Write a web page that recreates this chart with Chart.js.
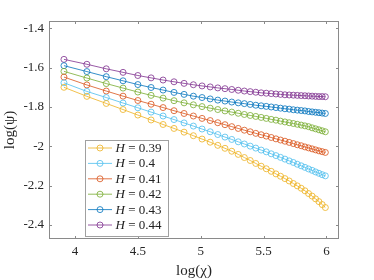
<!DOCTYPE html>
<html>
<head>
<meta charset="utf-8">
<script src="https://cdn.jsdelivr.net/npm/chart.js@4.4.1/dist/chart.umd.min.js"></script>
<style>
  html, body { margin: 0; padding: 0; background: #fff; }
  #wrap { width: 374px; height: 280px; }
</style>
</head>
<body>
<div id="wrap"><canvas id="c" width="374" height="280"></canvas></div>
<script>
// chi = 50, 60, ..., 400 ; x axis is log(chi)
const chi = [50, 60, 70, 80, 90, 100, 110, 120, 130, 140, 150, 160, 170, 180, 190, 200, 210, 220,
    230, 240, 250, 260, 270, 280, 290, 300, 310, 320, 330, 340, 350, 360, 370, 380, 390, 400];

const labels = ["0.39", "0.4", "0.41", "0.42", "0.43", "0.44"];
const colors = ["#EDB120", "#4DBEEE", "#D95319", "#77AC30", "#0072BD", "#7E2F8E"];

const h039 = [-1.700, -1.746, -1.782, -1.813, -1.841, -1.866, -1.889, -1.909, -1.928, -1.946,
    -1.963, -1.979, -1.995, -2.010, -2.025, -2.041, -2.057, -2.072, -2.087, -2.101,
    -2.114, -2.127, -2.140, -2.152, -2.164, -2.176, -2.189, -2.201, -2.213, -2.226,
    -2.240, -2.253, -2.267, -2.281, -2.296, -2.311];
const h040 = [-1.677, -1.721, -1.752, -1.780, -1.804, -1.826, -1.846, -1.864, -1.881, -1.897,
    -1.912, -1.926, -1.940, -1.953, -1.965, -1.977, -1.988, -1.999, -2.009, -2.019,
    -2.028, -2.038, -2.047, -2.056, -2.065, -2.074, -2.082, -2.091, -2.099, -2.107,
    -2.115, -2.122, -2.130, -2.137, -2.144, -2.150];
const h041 = [-1.648, -1.688, -1.719, -1.745, -1.767, -1.786, -1.803, -1.819, -1.833, -1.846,
    -1.858, -1.869, -1.880, -1.890, -1.900, -1.909, -1.918, -1.926, -1.934, -1.941,
    -1.948, -1.955, -1.962, -1.968, -1.974, -1.980, -1.986, -1.992, -1.997, -2.003,
    -2.008, -2.013, -2.018, -2.023, -2.027, -2.031];
const h042 = [-1.619, -1.653, -1.681, -1.704, -1.724, -1.741, -1.755, -1.768, -1.779, -1.789,
    -1.798, -1.806, -1.813, -1.820, -1.826, -1.832, -1.838, -1.843, -1.848, -1.853,
    -1.858, -1.863, -1.867, -1.872, -1.876, -1.880, -1.884, -1.888, -1.892, -1.896,
    -1.900, -1.906, -1.911, -1.916, -1.921, -1.926];
const h043 = [-1.590, -1.620, -1.646, -1.667, -1.686, -1.701, -1.714, -1.726, -1.736, -1.745,
    -1.752, -1.759, -1.765, -1.770, -1.775, -1.779, -1.783, -1.787, -1.791, -1.794,
    -1.797, -1.800, -1.803, -1.806, -1.809, -1.811, -1.814, -1.816, -1.818, -1.820,
    -1.823, -1.825, -1.827, -1.829, -1.831, -1.833];
const h044 = [-1.558, -1.583, -1.606, -1.624, -1.640, -1.652, -1.663, -1.672, -1.680, -1.687,
    -1.693, -1.698, -1.703, -1.707, -1.711, -1.715, -1.719, -1.722, -1.725, -1.728,
    -1.730, -1.732, -1.734, -1.736, -1.738, -1.739, -1.740, -1.741, -1.742, -1.743,
    -1.744, -1.745, -1.746, -1.747, -1.747, -1.748];

const xTicks = [4, 4.5, 5, 5.5, 6];
const yTicks = [-2.4, -2.2, -2, -1.8, -1.6, -1.4];

const series = [h039, h040, h041, h042, h043, h044];
const tickFont = { family: "'Liberation Serif', 'DejaVu Serif', serif", size: 13 };
const axisGrey = "#8a8a8a";

const datasets = series.map((ys, i) => ({
    label: labels[i],
    data: ys.map((y, k) => ({ x: Math.log(chi[k]), y: y })),
    borderColor: colors[i],
    backgroundColor: "rgba(0,0,0,0)",
    borderWidth: 0.8,
    pointRadius: 3,
    pointBorderWidth: 0.8,
    pointBorderColor: colors[i],
    pointBackgroundColor: "rgba(0,0,0,0)",
    tension: 0,
}));

// box, inward ticks and the legend, MATLAB style
const boxPlugin = {
    id: "box",
    afterDraw(chart) {
        const ctx = chart.ctx;
        const a = chart.chartArea;
        const xs = chart.scales.x, ys = chart.scales.y;
        ctx.save();
        ctx.strokeStyle = axisGrey;
        ctx.lineWidth = 1;
        ctx.strokeRect(a.left + 0.5, a.top + 0.5, a.right - a.left - 1, a.bottom - a.top - 1);
        ctx.beginPath();
        xTicks.forEach((v) => {
            const px = Math.round(xs.getPixelForValue(v)) + 0.5;
            ctx.moveTo(px, a.bottom); ctx.lineTo(px, a.bottom - 3);
            ctx.moveTo(px, a.top); ctx.lineTo(px, a.top + 3);
        });
        yTicks.forEach((v) => {
            const py = Math.round(ys.getPixelForValue(v)) + 0.5;
            ctx.moveTo(a.left, py); ctx.lineTo(a.left + 3, py);
            ctx.moveTo(a.right, py); ctx.lineTo(a.right - 3, py);
        });
        ctx.stroke();

        // legend
        const lx = 85.5, ly = 140.5, lw = 83, lh = 96;
        ctx.fillStyle = "#fff";
        ctx.fillRect(lx, ly, lw, lh);
        ctx.strokeStyle = "#a0a0a0";
        ctx.strokeRect(lx, ly, lw, lh);
        labels.forEach((lab, i) => {
            const cy = 148 + i * 15.4;
            ctx.strokeStyle = colors[i];
            ctx.lineWidth = 0.8;
            ctx.beginPath();
            ctx.moveTo(88, cy); ctx.lineTo(112, cy);
            ctx.stroke();
            ctx.beginPath();
            ctx.arc(100, cy, 3, 0, Math.PI * 2);
            ctx.stroke();
            ctx.fillStyle = "#222";
            ctx.textBaseline = "middle";
            ctx.font = "italic 13px 'Liberation Serif', serif";
            ctx.fillText("H", 115.5, cy + 0.5);
            ctx.font = "13px 'Liberation Serif', serif";
            ctx.fillText(" = " + lab, 125, cy + 0.5);
        });
        ctx.restore();
    },
};

new Chart(document.getElementById("c"), {
    type: "line",
    data: { datasets },
    options: {
        responsive: false,
        animation: false,
        layout: { padding: { left: 0, right: 35, top: 21, bottom: 0 } },
        plugins: { legend: { display: false }, tooltip: { enabled: false } },
        scales: {
            x: {
                type: "linear",
                min: 3.793,
                max: 6.1,
                afterBuildTicks: (s) => { s.ticks = xTicks.map((v) => ({ value: v })); },
                afterFit: (s) => { s.height = 41; },
                grid: { display: false, drawTicks: false },
                border: { display: false },
                ticks: {
                    padding: 5,
                    color: "#262626",
                    font: tickFont,
                    maxRotation: 0,
                    callback: (v) => String(v),
                },
                title: {
                    display: true,
                    text: "log(χ)",
                    color: "#262626",
                    font: { family: "'Liberation Serif', serif", size: 15 },
                    padding: { top: 0, bottom: 0 },
                },
            },
            y: {
                type: "linear",
                min: -2.471,
                max: -1.363,
                afterBuildTicks: (s) => { s.ticks = yTicks.map((v) => ({ value: v })); },
                afterFit: (s) => { s.width = 49; },
                grid: { display: false, drawTicks: false },
                border: { display: false },
                ticks: {
                    padding: 5,
                    color: "#262626",
                    font: tickFont,
                    callback: (v) => String(Math.round(v * 10) / 10),
                },
                title: {
                    display: true,
                    text: "log(ψ)",
                    color: "#262626",
                    font: { family: "'Liberation Serif', serif", size: 15 },
                    padding: { top: 1, bottom: 0 },
                },
            },
        },
    },
    plugins: [boxPlugin],
});
</script>
</body>
</html>
